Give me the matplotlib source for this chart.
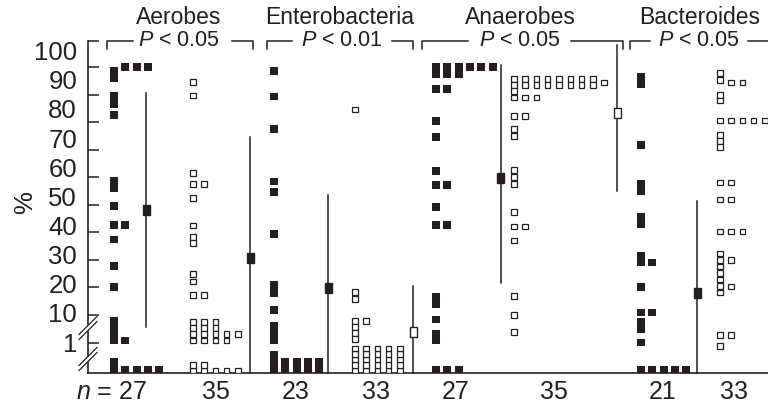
import numpy as np
import matplotlib

matplotlib.use("Agg")
import matplotlib.pyplot as plt  # noqa: E402
from matplotlib.patches import Rectangle, Polygon  # noqa: E402

plt.rcParams["font.family"] = ["Liberation Sans", "DejaVu Sans"]
plt.rcParams["mathtext.fontset"] = "custom"
plt.rcParams["mathtext.it"] = "Liberation Sans:italic"
plt.rcParams["mathtext.rm"] = "Liberation Sans"

INK = "#231f20"

# ---- values (%) ----
group_names = ["Aerobes", "Enterobacteria", "Anaerobes", "Bacteroides"]
p_labels = ["$P$ < 0.05", "$P$ < 0.01", "$P$ < 0.05", "$P$ < 0.05"]
n_labels = ["$n$ = 27", "35", "23", "33", "27", "35", "21", "33"]

aer_solid = [98.6, 96, 100, 100, 100, 89.5, 86.6, 82.6, 58.6, 56, 49.5, 42.7, 42.7,
             37.4, 27.8, 20.1, 6.3, 3.6, 2.1, 1.2, 1.2]
aer_open = [94.5, 89.7, 61.5, 57.5, 57.5, 52.5, 42.5, 38.3, 36.1, 24.9, 22.1, 17.2, 17.2,
            5.5, 5.5, 5.5, 3.4, 3.4, 3.4, 2.0, 2.0, 2.0, 2.0, 2.0, 1.2, 1.2, 1.2, 1.2]
ent_solid = [98.5, 89.3, 77.5, 58.4, 54.6, 39.4, 20.9, 18, 11.8, 4.0, 2.2, 1.2]
ent_open = [84.6, 18.3, 15.8, 6.0, 6.0, 3.6, 2.2, 1.35]
ana_solid = [100, 100, 100, 100, 100, 100, 97.4, 97.4, 97.4, 92, 92, 80.4, 74.6, 62.3,
             57.2, 57.2, 49.2, 42.6, 42.6, 16.5, 13.8, 7.0, 2.1, 1.2]
ana_open = [95.6] * 8 + [93.4] * 8 + [94.4, 91.3, 88.9, 89, 89, 82.2, 82.2, 77.5, 75,
                                     62.6, 60, 57.5, 47.4, 42.1, 42.1, 37, 16.9, 10, 2.4]
bac_solid = [96.4, 93.8, 71.7, 57.5, 55, 45.6, 43, 31.5, 29, 29, 20.1, 11, 11, 5.5, 3.1, 1.0]
bac_open = [97.8, 95.3, 94.4, 94.4, 89.8, 87.8, 80.6, 80.6, 80.6, 80.6, 80.6, 75.3, 73.1,
            71, 58, 58, 51.9, 51.9, 40.3, 40.3, 40.3, 32.3, 30, 30, 27.6, 25.2, 22.9,
            20.5, 20.4, 18.1, 1.9, 1.9, 0.75]
zero_counts = [6, 7, 11, 25, 3, 0, 5, 0]

medians = [48, 30.7, 19.8, 2.4, 59.7, 83.3, 18.1]
range_lo = [3.6, 0, 0, 0, 21.6, 55, 0]
range_hi = [90.6, 74.6, 53.5, 20.5, 100.7, 108, 51.4]
median_filled = [True, True, True, False, True, False, True]

# ---- layout (pixel-ish x units, % units on y) ----
PX = 2.755                       # pixels per % unit
Y_BOT = 100 - (373 - 67) / PX    # axis line
Y_TOP = 100 - (41 - 67) / PX


def py(ypix):
    return 100 - (ypix - 67) / PX


def to_pos(v):
    if v >= 10:
        return v
    if v > 0:
        return 10 * np.log10(v)   # 1-10 band between the breaks
    return Y_BOT


series = [aer_solid, aer_open, ent_solid, ent_open, ana_solid, ana_open, bac_solid, bac_open]
solid = [True, False] * 4
col0 = [110, 190, 270, 352, 432, 511, 637, 717]
STEP = 11.3
med_x = [146, 250, 328, 413, 500.5, 617, 697]


def pack(values, zeros, h):
    cols, out = {}, []
    for i in range(zeros):
        c, r = i % 5, i // 5
        y = Y_BOT + h / 2 + r * h
        cols.setdefault(c, []).append(y)
        out.append((c, y))
    for v in values:
        y = to_pos(v)
        c = 0
        while any(abs(y - o) < 0.7 * h for o in cols.get(c, [])):
            c += 1
        cols.setdefault(c, []).append(y)
        out.append((c, y))
    return out


fig = plt.figure(figsize=(7.68, 4.05), dpi=100)
ax = fig.add_axes([88 / 768, 32 / 405, 680 / 768, 332 / 405])
ax.set_xlim(88, 768)
ax.set_ylim(Y_BOT, Y_TOP)
for s in ("top", "right"):
    ax.spines[s].set_visible(False)
for s in ("left", "bottom"):
    ax.spines[s].set_linewidth(1.2)
    ax.spines[s].set_color(INK)
ax.set_xticks([])
ax.set_yticks([100, 90, 80, 70, 60, 50, 40, 30, 20, 10, 0, Y_TOP])
ax.set_yticklabels([])
ax.tick_params(axis="y", direction="in", length=8, width=1.1, color=INK)

# y labels (typeset slightly wider than the ticks in the original)
for v in [100, 90, 80, 70, 60, 50, 40, 30, 20, 10]:
    ax.text(77, 10 + (v - 10) * 1.055, str(v), ha="right", va="center",
            fontsize=18.5, color=INK, clip_on=False)
ax.text(77, py(345), "1", ha="right", va="center", fontsize=18.5, color=INK, clip_on=False)
ax.text(25, py(203), "%", ha="center", va="center", fontsize=18.5, color=INK,
        rotation=90, clip_on=False)

# axis breaks
for yc in (328, 359):
    a, g = 9, 2.5
    top = [(79, py(yc + a - g)), (97, py(yc - a - g))]
    bot = [(79, py(yc + a + g)), (97, py(yc - a + g))]
    ax.add_patch(Polygon([top[0], top[1], bot[1], bot[0]], closed=True, fc="white",
                         ec="none", clip_on=False, zorder=5))
    for seg in (top, bot):
        ax.plot([seg[0][0], seg[1][0]], [seg[0][1], seg[1][1]], color=INK, lw=0.9,
                clip_on=False, zorder=6)

# squares
for vals, zc, x0, filled in zip(series, zero_counts, col0, solid):
    w, h = (8, 7.3 / PX) if filled else (5.5, 5.5 / PX)
    for c, y in pack(vals, zc, h):
        ax.add_patch(Rectangle((x0 + c * STEP, y - h / 2), w, h,
                               fc=INK if filled else "white", ec=INK,
                               lw=0 if filled else 0.9, zorder=3))

# median markers with ranges
for mx, m, lo, hi, filled in zip(med_x, medians, range_lo, range_hi, median_filled):
    ax.plot([mx, mx], [to_pos(lo), to_pos(hi)], color=INK, lw=1.1, zorder=3,
            clip_on=False)
    mh = 10 / PX
    ax.add_patch(Rectangle((mx - 3.5, to_pos(m) - mh / 2), 7, mh,
                           fc=INK if filled else "white", ec=INK, lw=1.0, zorder=4))

# n labels
lab_x = [147, 216, 296, 376, 456, 554, 663, 734]
for i, (lx, lab) in enumerate(zip(lab_x, n_labels)):
    ax.text(lx, py(392), lab, ha="right" if i == 0 else "center", va="center",
            fontsize=18, color=INK, clip_on=False)

# group titles and P brackets
name_x = [179, 340, 520, 700]
p_x = [179, 342, 520, 699]
brackets = [((107, 133), (232, 253)), ((267, 292), (392, 413)),
            ((422, 468), (571, 623)), ((630, 650), (748, 790))]
yb = py(41)
for name, nx, pl, px_, (left, right) in zip(group_names, name_x, p_labels, p_x, brackets):
    ax.text(nx, py(18), name, ha="center", va="center", fontsize=16.5, color=INK,
            clip_on=False)
    ax.text(px_, py(41), pl, ha="center", va="center", fontsize=15.5, color=INK,
            clip_on=False)
    ax.plot([left[0], left[0], left[1]], [py(49), yb, yb], color=INK, lw=1.1,
            clip_on=False)
    ax.plot([right[0], right[1], right[1]], [yb, yb, py(49)], color=INK, lw=1.1,
            clip_on=False)

fig.savefig("out.png", dpi=100)
